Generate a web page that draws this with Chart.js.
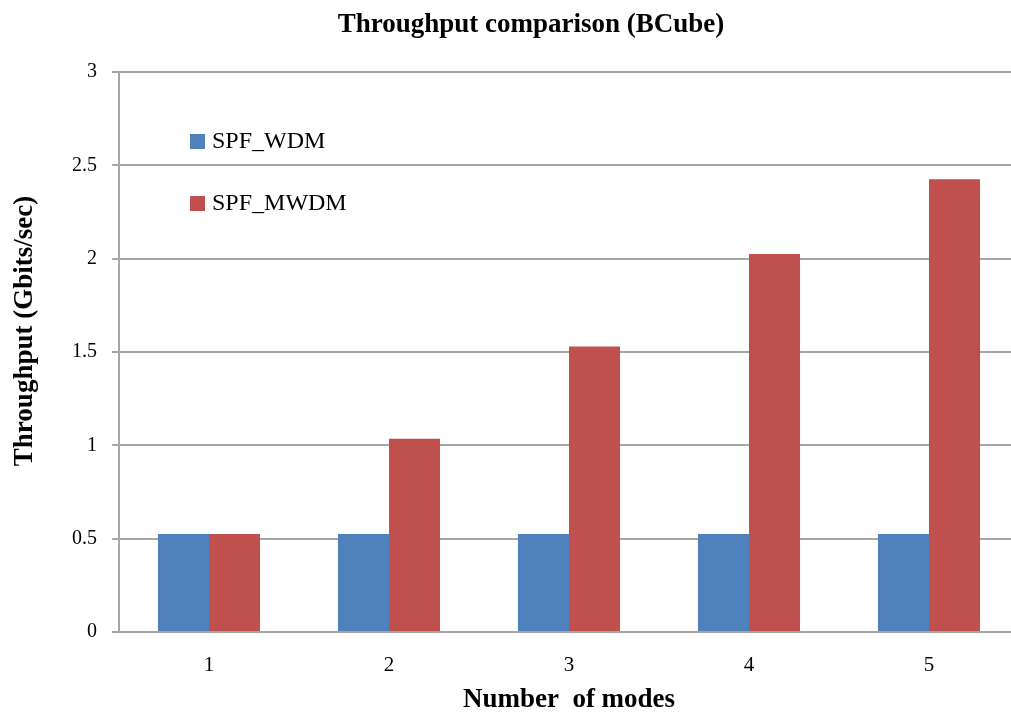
<!DOCTYPE html>
<html>
<head>
<meta charset="utf-8">
<script src="https://cdn.jsdelivr.net/npm/chart.js@4"></script>
<style>
  html, body { margin: 0; padding: 0; background: #fff; overflow: hidden; }
  #wrap { width: 1062px; height: 712px; }
</style>
</head>
<body>
<div id="wrap"><canvas id="chart"></canvas></div>
<script>
// Throughput per number of modes
const modes = ['1', '2', '3', '4', '5'];
const wdm = [0.525, 0.525, 0.525, 0.525, 0.525];
const mwdm = [0.525, 1.035, 1.53, 2.025, 2.425];
const seriesNames = ['SPF_WDM', 'SPF_MWDM'];
const seriesColors = ['#4F81BD', '#C0504D'];
const chartTitle = 'Throughput comparison (BCube)';
const yTitle = 'Throughput (Gbits/sec)';
const xTitle = 'Number  of modes';

const FONT = '"Liberation Serif", "DejaVu Serif", serif';
const GRID = '#A6A6A6';

// title, y-axis title and the legend inside the plot
const decorations = {
    id: 'decorations',
    afterDraw(chart) {
        const ctx = chart.ctx;
        ctx.save();
        ctx.fillStyle = '#000';
        ctx.textAlign = 'center';
        ctx.textBaseline = 'middle';
        ctx.font = 'bold 27px ' + FONT;
        ctx.fillText(chartTitle, 531, 25);

        ctx.translate(25, 331);
        ctx.rotate(-Math.PI / 2);
        ctx.fillText(yTitle, 0, 0);
        ctx.setTransform(1, 0, 0, 1, 0, 0);

        ctx.font = '24px ' + FONT;
        ctx.textAlign = 'left';
        chart.data.datasets.forEach((ds, i) => {
            const y = 141 + i * 62;
            ctx.fillStyle = ds.backgroundColor;
            ctx.fillRect(190, y - 7, 15, 15);
            ctx.fillStyle = '#000';
            ctx.fillText(ds.label, 212, y + 1);
        });
        ctx.restore();
    }
};

new Chart(document.getElementById('chart'), {
    type: 'bar',
    data: {
        labels: modes,
        datasets: [
            { label: seriesNames[0], data: wdm, backgroundColor: seriesColors[0] },
            { label: seriesNames[1], data: mwdm, backgroundColor: seriesColors[1] }
        ]
    },
    options: {
        responsive: true,
        maintainAspectRatio: false,
        animation: false,
        categoryPercentage: 0.567,
        barPercentage: 1,
        layout: { padding: { top: 72, right: 43, left: 57, bottom: 0 } },
        plugins: {
            legend: { display: false },
            tooltip: { enabled: false },
            title: { display: false }
        },
        scales: {
            x: {
                grid: { display: false },
                border: { color: GRID, width: 2 },
                ticks: { color: '#000', font: { family: FONT, size: 21, lineHeight: 1 }, padding: 15 },
                title: {
                    display: true,
                    text: xTitle,
                    color: '#000',
                    font: { family: FONT, size: 27, weight: 'bold', lineHeight: 0.85 },
                    padding: { top: -2, bottom: 0 }
                }
            },
            y: {
                min: 0,
                max: 3,
                ticks: {
                    stepSize: 0.5,
                    color: '#000',
                    font: { family: FONT, size: 20 },
                    padding: 15,
                    callback: v => String(v)
                },
                grid: { color: GRID, lineWidth: 2, tickLength: 7 },
                border: { color: GRID, width: 2 }
            }
        }
    },
    plugins: [decorations]
});
</script>
</body>
</html>
